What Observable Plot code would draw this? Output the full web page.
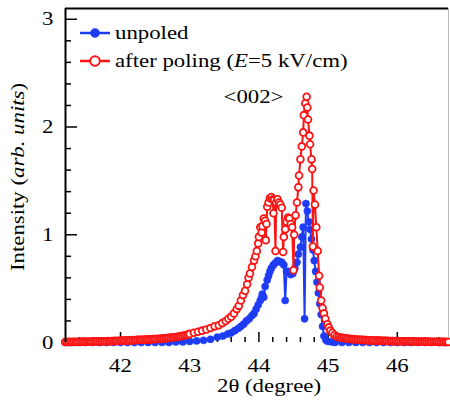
<!DOCTYPE html>
<html>
<head>
<meta charset="utf-8">
<script src="https://cdn.jsdelivr.net/npm/d3@7"></script>
<script src="https://cdn.jsdelivr.net/npm/@observablehq/plot@0.6"></script>
<style>
  html, body { margin: 0; padding: 0; background: #fff; overflow: hidden; }
  #chart svg { display: block; }
  #chart svg, #chart svg text { font-family: "Liberation Serif", "Times New Roman", Times, serif !important; }
</style>
</head>
<body>
<div id="chart"></div>
<script>
// ---- data ----
const seriesNames = ["unpoled", "after poling"];

const unpoledX = [41.20,41.30,41.40,41.50,41.60,41.70,41.80,41.90,42.00,42.10,42.20,42.30,42.40,42.50,42.60,42.70,42.80,42.90,
  43.00,43.10,43.20,43.30,43.40,43.48,43.55,43.60,43.65,43.70,43.74,43.78,43.82,43.86,43.90,43.93,43.96,43.99,
  44.02,44.04,44.05,44.07,44.09,44.12,44.14,44.16,44.18,44.21,44.24,44.27,44.30,44.33,44.36,44.38,44.40,44.43,
  44.46,44.49,44.52,44.55,44.57,44.60,44.62,44.64,44.66,44.68,44.70,44.72,44.74,44.76,44.78,44.80,44.82,44.84,
  44.86,44.88,44.90,44.92,44.94,44.97,45.00,45.05,45.10,45.20,45.30,45.40,45.50,45.60,45.70,45.80,45.90,46.00,
  46.10,46.20,46.30,46.40,46.50,46.60,46.70];
const unpoledY = [0,0,0,0,0,0,0,0,0,0,0,0,0,0,0,0,0.005,0.005,
  0.01,0.015,0.02,0.03,0.05,0.06,0.08,0.09,0.11,0.13,0.15,0.17,0.20,0.22,0.25,0.27,0.31,0.35,
  0.39,0.42,0.45,0.42,0.52,0.58,0.62,0.66,0.69,0.72,0.74,0.76,0.75,0.745,0.72,0.39,0.66,0.66,
  0.63,0.64,0.69,0.745,0.82,0.885,0.98,1.07,0.22,1.29,1.22,1.12,1.05,0.96,0.86,0.76,0.66,0.56,
  0.46,0.36,0.26,0.15,0.06,0.02,0.01,0.005,0,0,0,0,0,0,0,0,0,0,
  0,0,0,0,0,0,0];

// after poling: low-angle tail
const poledLeftX = [41.200,41.225,41.250,41.275,41.300,41.325,41.350,41.375,41.400,41.425,41.450,41.475,41.500,41.525,41.550,41.575,
  41.600,41.625,41.650,41.675,41.700,41.725,41.750,41.775,41.800,41.825,41.850,41.875,41.900,41.925,41.950,41.975,
  42.000,42.025,42.050,42.075,42.100,42.125,42.150,42.175,42.200,42.225,42.250,42.275,42.300,42.325,42.350,42.375,42.400,42.425,42.450,42.475,
  42.500,42.525,42.550,42.575,42.600,42.625,42.650,42.675,42.700,42.725,42.750,42.775,42.800,42.825,42.850,42.875,42.900,42.925,42.950,42.975];
const poledLeftY = [0.005,0.006,0.004,0.006,0.005,0.007,0.006,0.005,0.007,0.006,0.008,0.007,0.008,0.007,0.009,0.008,
  0.009,0.010,0.009,0.010,0.011,0.010,0.012,0.011,0.012,0.013,0.012,0.014,0.013,0.015,0.014,0.016,
  0.016,0.018,0.017,0.019,0.020,0.019,0.021,0.022,0.021,0.023,0.024,0.025,0.024,0.026,0.027,0.028,0.027,0.029,0.030,0.031,
  0.032,0.033,0.035,0.034,0.036,0.038,0.040,0.041,0.043,0.045,0.047,0.049,0.051,0.054,0.056,0.059,0.062,0.065,0.069,0.073];
// after poling: peak region
const poledPeakX = [43.00,43.06,43.12,43.18,43.24,43.30,43.36,43.42,43.47,43.52,43.56,43.60,43.64,43.68,43.71,43.74,43.77,43.80,
  43.83,43.85,43.87,43.90,43.93,43.95,43.97,43.99,44.00,44.02,44.04,44.05,44.07,44.09,44.10,44.11,44.12,44.14,
  44.16,44.18,44.20,44.21,44.22,44.24,44.25,44.27,44.29,44.31,44.33,44.35,44.36,44.38,44.40,44.42,44.44,44.46,
  44.48,44.50,44.51,44.53,44.55,44.57,44.58,44.60,44.62,44.64,44.65,44.67,44.69,44.70,44.71,44.73,44.74,44.76,
  44.77,44.78,44.79,44.81,44.83,44.85,44.87,44.88,44.90,44.92,44.94,44.96,44.99,45.01,45.03,45.06,45.09,45.12];
const poledPeakY = [0.08,0.09,0.10,0.11,0.12,0.135,0.15,0.16,0.18,0.20,0.22,0.24,0.27,0.31,0.34,0.39,0.44,0.48,
  0.54,0.60,0.64,0.70,0.76,0.80,0.85,0.92,0.98,1.07,1.02,1.08,1.15,1.13,0.95,1.10,1.26,1.30,
  1.34,1.35,1.33,1.20,1.32,0.85,1.30,1.33,1.30,1.28,1.25,0.84,0.98,1.05,1.12,1.16,1.15,1.10,
  1.07,0.67,1.00,1.18,1.30,1.44,1.55,1.70,1.82,1.95,2.11,2.22,2.28,2.18,2.07,1.92,1.84,1.70,
  1.61,0.89,1.41,1.28,1.07,0.85,0.62,0.51,0.39,0.32,0.27,0.22,0.17,0.14,0.11,0.09,0.07,0.055];
// after poling: high-angle tail
const poledRightX = [45.150,45.175,45.200,45.225,45.250,45.275,45.300,45.325,45.350,45.375,
  45.400,45.425,45.450,45.475,45.500,45.525,45.550,45.575,45.600,45.625,
  45.650,45.675,45.700,45.725,45.750,45.775,45.800,45.825,45.850,45.875,
  45.900,45.925,45.950,45.975,46.000,46.025,46.050,46.075,46.100,46.125,
  46.150,46.175,46.200,46.225,46.250,46.275,46.300,46.325,46.350,46.375,
  46.400,46.425,46.450,46.475,46.500,46.525,46.550,46.575,46.600,46.625,
  46.650,46.675,46.700,46.725,46.740];
const poledRightY = [0.050,0.047,0.044,0.041,0.039,0.037,0.035,0.033,0.031,0.030,
  0.028,0.027,0.026,0.025,0.024,0.023,0.022,0.021,0.021,0.020,
  0.019,0.019,0.018,0.017,0.017,0.016,0.016,0.015,0.015,0.014,
  0.014,0.013,0.013,0.013,0.012,0.012,0.012,0.011,0.011,0.011,
  0.010,0.010,0.010,0.010,0.009,0.009,0.009,0.009,0.008,0.008,
  0.008,0.008,0.008,0.007,0.007,0.007,0.007,0.007,0.006,0.006,
  0.006,0.006,0.006,0.005,0.005];

const xTicks = [42, 43, 44, 45, 46];
const yTicks = [0, 1, 2, 3];
const xDomain = [41.205, 46.74];
const yDomain = [0, 3.10];
const xLabel = "2θ (degree)";
const peakLabel = "<002>";

// ---- build ----
const unpoled = unpoledX.map((x, i) => ({x, y: unpoledY[i]}));
const poledX = [...poledLeftX, ...poledPeakX, ...poledRightX];
const poledY = [...poledLeftY, ...poledPeakY, ...poledRightY];
const poled = poledX.map((x, i) => ({x, y: poledY[i]}));

const W = 450, H = 407;
const mL = 65, mR = 2, mT = 8, mB = 65;
const innerW = W - mL - mR, innerH = H - mT - mB;
const blue = "#1e3cf5", red = "#fa1414";
const font = "'Liberation Serif', 'Times New Roman', Times, serif";
const FS = 19;          // font size
const STRETCH = 1.2;    // the reference's lettering is ~20% wider than Times

const xMinor = d3.range(41.4, 46.7, 0.2).filter(v => Math.abs(v - Math.round(v)) > 0.05);
const yMinor = d3.range(0.2, 3.0, 0.2).filter(v => Math.abs(v - Math.round(v)) > 0.05);

const chart = Plot.plot({
  width: W, height: H,
  marginLeft: mL, marginRight: mR, marginTop: mT, marginBottom: mB,
  style: {fontFamily: font, fontSize: FS + "px", color: "#000", background: "#fff"},
  x: {domain: xDomain},
  y: {domain: yDomain},
  marks: [
    Plot.ruleX([xDomain[1]], {stroke: "#bbb", strokeWidth: 1}),
    // ticks (inward)
    Plot.tickX(xMinor, {x: d => d, insetTop: innerH - 5, stroke: "#000", strokeWidth: 1.5}),
    Plot.tickX(xTicks, {x: d => d, insetTop: innerH - 10, stroke: "#000", strokeWidth: 1.5}),
    Plot.tickY(yMinor, {y: d => d, insetRight: innerW - 6, stroke: "#000", strokeWidth: 1.5}),
    Plot.tickY(yTicks, {y: d => d, insetRight: innerW - 12, stroke: "#000", strokeWidth: 1.5}),
    Plot.axisX(xTicks, {tickSize: 0, tickPadding: 16, label: null, fontSize: FS, tickFormat: d => String(d)}),
    Plot.axisY(yTicks, {tickSize: 0, tickPadding: 12, label: null, fontSize: FS, tickFormat: d => String(d)}),
    // data
    Plot.line(unpoled, {x: "x", y: "y", stroke: blue, strokeWidth: 2}),
    Plot.dot(unpoled, {x: "x", y: "y", r: 3.6, fill: blue, stroke: blue, strokeWidth: 0.5}),
    Plot.line(poled, {x: "x", y: "y", stroke: red, strokeWidth: 2}),
    Plot.dot(poled, {x: "x", y: "y", r: 3.4, fill: "#fff", stroke: red, strokeWidth: 1.8}),
    // axis frame lines
    Plot.ruleX([xDomain[0]], {stroke: "#000", strokeWidth: 2}),
    Plot.ruleY([yDomain[1]], {stroke: "#000", strokeWidth: 2}),
    // annotations
    Plot.text([xLabel], {frameAnchor: "bottom", dx: 12, dy: 49, fontSize: FS, fill: "#000"}),
    Plot.text([peakLabel], {frameAnchor: "top-left", dx: 188, dy: 88, textAnchor: "middle", lineAnchor: "middle", fontSize: FS, fill: "#000"})
  ]
});

document.getElementById("chart").appendChild(chart);

// y-axis title and legend with mixed styles
const svg = d3.select(chart);
const yt = svg.append("text")
  .attr("transform", `translate(24, 177) rotate(-90)`)
  .attr("text-anchor", "middle")
  .attr("font-family", font).attr("font-size", FS).attr("fill", "#000");
yt.append("tspan").text("Intensity (");
yt.append("tspan").attr("font-style", "italic").text("arb. units");
yt.append("tspan").text(")");

const leg = svg.append("g").attr("font-family", font).attr("font-size", FS).attr("text-anchor", "start");
const items = [
  {name: seriesNames[0], color: blue, filled: true, y: 33},
  {name: null, color: red, filled: false, y: 61}
];
items.forEach(it => {
  leg.append("line").attr("x1", 80).attr("x2", 110).attr("y1", it.y).attr("y2", it.y)
    .attr("stroke", it.color).attr("stroke-width", 2.5);
  leg.append("circle").attr("cx", 95).attr("cy", it.y).attr("r", it.filled ? 4.5 : 4.8)
    .attr("fill", it.filled ? it.color : "#fff").attr("stroke", it.color).attr("stroke-width", it.filled ? 0.5 : 2);
  const t = leg.append("text").attr("x", 115).attr("y", it.y + 6).attr("fill", "#000");
  if (it.name) t.text(it.name);
  else {
    t.append("tspan").text(seriesNames[1] + " (");
    t.append("tspan").attr("font-style", "italic").text("E");
    t.append("tspan").text("=5 kV/cm)");
  }
});

// widen all lettering to match the reference proportions
svg.selectAll("text").each(function() {
  const len = this.getComputedTextLength();
  if (len > 0) {
    this.setAttribute("textLength", (len * STRETCH).toFixed(1));
    this.setAttribute("lengthAdjust", "spacingAndGlyphs");
  }
});
</script>
</body>
</html>
